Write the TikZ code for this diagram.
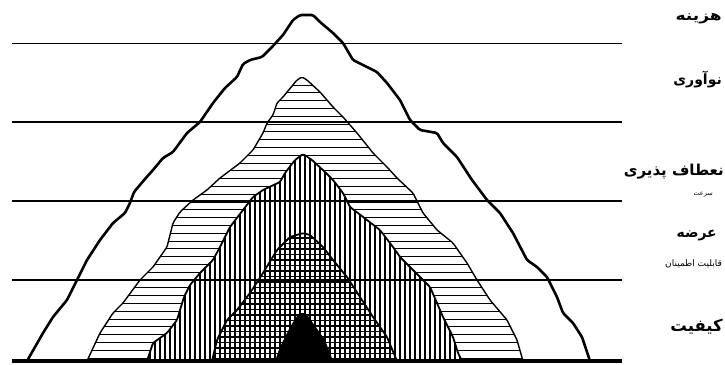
\documentclass[tikz,border=0pt]{standalone}
\usepackage{fontspec}
\newfontfamily\arabicfont[Script=Arabic]{DejaVu Sans}
\TeXXeTstate=1
\begin{document}
\begin{tikzpicture}[x=1pt,y=-1pt,
  edge/.style={line width=#1, line join=round, rounded corners=1.5pt},
  level/.style={line width=1.6pt},
  hatch/.style={line width=#1},
  lbl/.style={anchor=east, inner sep=0pt, font=\arabicfont\bfseries},
  sublbl/.style={anchor=east, inner sep=0pt, font=\arabicfont}]
\useasboundingbox (0,0) rectangle (725,364);
\def\pone{(27,361) -- (43,333) -- (53,317) -- (67,300) -- (77,280) -- (87,260) -- (100,240) -- (113,223) -- (125,213) -- (130,203) -- (134,192) -- (145,179) -- (153,170) -- (163,158) -- (173,152) -- (187,133) -- (200,122) -- (213,103) -- (225,88) -- (237,77) -- (243,64) -- (250,60) -- (262,57) -- (272,47) -- (283,35) -- (293,20) -- (300,15) -- (313,15) -- (320,22) -- (333,33) -- (343,43) -- (353,60) -- (363,65) -- (377,72) -- (387,83) -- (400,100) -- (410,120) -- (420,130) -- (437,133) -- (443,143) -- (457,157) -- (472,180) -- (487,200) -- (500,213) -- (513,233) -- (527,260) -- (537,267) -- (547,277) -- (557,297) -- (563,313) -- (573,323) -- (582,337) -- (590,361)}
\def\ptwo{(87,361) -- (100,333) -- (113,313) -- (123,303) -- (140,280) -- (153,267) -- (167,247) -- (173,223) -- (180,212) -- (193,200) -- (207,190) -- (220,178) -- (240,163) -- (253,150) -- (263,133) -- (267,123) -- (273,115) -- (277,103) -- (283,97) -- (297,80) -- (302,77) -- (307,80) -- (320,92) -- (333,107) -- (343,117) -- (357,133) -- (373,153) -- (387,167) -- (397,178) -- (413,193) -- (423,213) -- (437,230) -- (453,243) -- (467,263) -- (477,280) -- (490,300) -- (507,320) -- (517,340) -- (523,361)}
\def\pthree{(147,361) -- (153,343) -- (167,333) -- (177,320) -- (184,297) -- (190,285) -- (200,273) -- (213,260) -- (220,247) -- (230,227) -- (243,210) -- (253,197) -- (263,190) -- (280,182) -- (285,173) -- (295,160) -- (303,154) -- (312,160) -- (325,172) -- (333,180) -- (343,193) -- (350,207) -- (367,220) -- (380,230) -- (393,247) -- (400,257) -- (413,270) -- (423,280) -- (430,287) -- (437,303) -- (443,317) -- (453,337) -- (458,353) -- (462,361)}
\def\pfour{(212,361) -- (217,340) -- (227,320) -- (237,310) -- (250,293) -- (263,273) -- (277,250) -- (290,237) -- (303,233) -- (310,235) -- (323,247) -- (333,260) -- (347,277) -- (360,297) -- (373,317) -- (387,337) -- (397,361)}
\def\pfive{(275,361) -- (280,347) -- (290,327) -- (299,313) -- (306,313) -- (313,323) -- (325,340) -- (333,361)}
% horizontal hatching of the second pyramid
\begin{scope}
  \clip \ptwo -- cycle;
  \foreach \y in {85,92.8,...,361} \draw[hatch=0.9pt] (80,\y) -- (530,\y);
\end{scope}
% vertical hatching of the third pyramid
\fill[white] \pthree -- cycle;
\begin{scope}
  \clip \pthree -- cycle;
  \foreach \x in {150,155,...,462} \draw[hatch=1.3pt] (\x,150) -- (\x,362);
\end{scope}
% cross hatching of the fourth pyramid
\begin{scope}
  \clip \pfour -- cycle;
  \foreach \y in {238,243.5,...,361} \draw[hatch=1.3pt] (205,\y) -- (400,\y);
\end{scope}
% solid core
\fill[black, rounded corners=1.5pt] \pfive -- cycle;
% level lines
\coordinate (l1a) at (12,43.5);  \coordinate (l1b) at (622,43.5);
\coordinate (l2a) at (12,122);   \coordinate (l2b) at (622,122);
\coordinate (l3a) at (12,201);   \coordinate (l3b) at (622,201);
\coordinate (l4a) at (12,280);   \coordinate (l4b) at (622,280);
\coordinate (l5a) at (12,361);   \coordinate (l5b) at (622,361);
\draw[level] (l1a) -- (l1b);
\draw[level] (l2a) -- (l2b);
\draw[level] (l3a) -- (l3b);
\draw[level] (l4a) -- (l4b);
% outlines
\draw[edge=1.4pt] \ptwo;
\draw[edge=1.8pt] \pthree;
\draw[edge=1.8pt] \pfour;
\draw[edge=2.6pt] \pone;
\draw[line width=4pt] (l5a) -- (l5b);
% labels
\node[lbl, font=\arabicfont\bfseries\fontsize{14}{16}\selectfont] (t1) at (722,19) {\scalebox{1.22}[1]{\beginR هزینه\endR}};
\node[lbl, font=\arabicfont\bfseries\fontsize{14}{16}\selectfont] (t2) at (722,80) {\beginR نوآوری\endR};
\node[lbl, font=\arabicfont\bfseries\fontsize{15}{17}\selectfont] (t3) at (724,172) {\beginR نعطاف پذیری\endR};
\node[sublbl, font=\arabicfont\fontsize{6.5}{8}\selectfont] (t4) at (713,195) {\beginR سرعت\endR};
\node[lbl, font=\arabicfont\bfseries\fontsize{14}{16}\selectfont] (t5) at (717,236) {\beginR عرضه\endR};
\node[sublbl, font=\arabicfont\fontsize{9}{11}\selectfont] (t6) at (722,264) {\beginR قابلیت اطمینان\endR};
\node[lbl, font=\arabicfont\bfseries\fontsize{16.5}{19}\selectfont] (t7) at (723,327) {\beginR کیفیت\endR};
\end{tikzpicture}
\end{document}
